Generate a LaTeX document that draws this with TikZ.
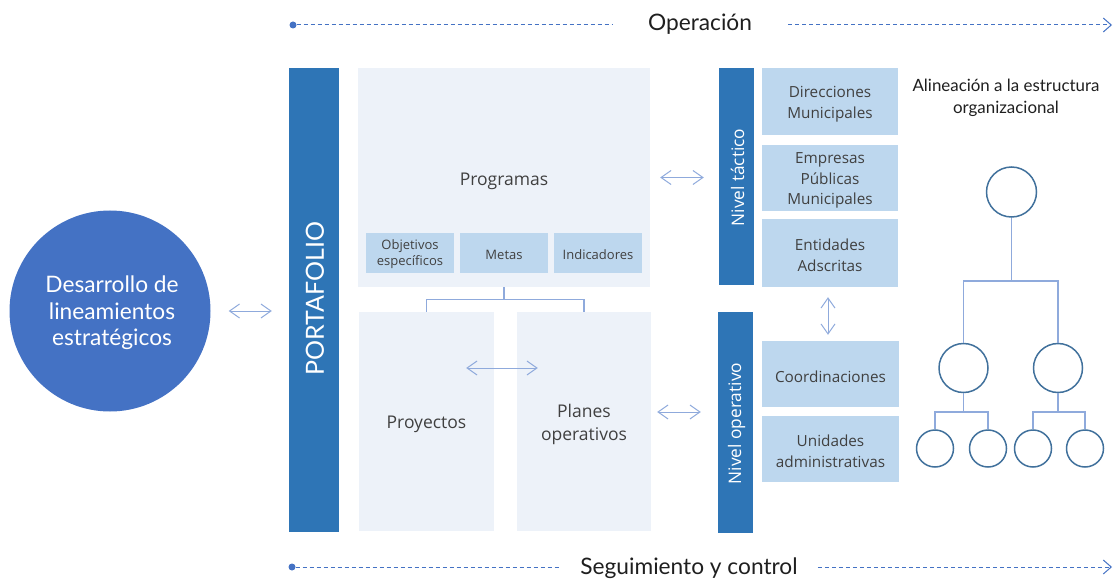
\documentclass[tikz,border=0pt]{standalone}
\usepackage{fontspec}
\setmainfont{Lato}
\newfontfamily\boxfont{Open Sans}
\usetikzlibrary{arrows.meta}
\definecolor{barblue}{HTML}{2E75B6}
\definecolor{circblue}{HTML}{4472C4}
\definecolor{lightbox}{HTML}{BDD7EE}
\definecolor{paleblue}{HTML}{EDF2F9}
\definecolor{arrblue}{HTML}{8FAADC}
\definecolor{dashblue}{HTML}{4472C4}
\definecolor{ringblue}{HTML}{41719C}
\definecolor{txtgray}{HTML}{404040}
\definecolor{darktxt}{HTML}{1F1F1F}
\tikzset{
  bigbar/.style={rectangle, fill=barblue, inner sep=0pt},
  barlabel/.style={rotate=90, text=white, inner sep=0pt},
  palebox/.style={rectangle, fill=paleblue, inner sep=0pt},
  subbox/.style={rectangle, fill=lightbox, inner sep=0pt},
  paletxt/.style={inner sep=0pt, align=center, text=txtgray, yshift=-3pt, font=\boxfont\fontsize{17.5}{23}\selectfont},
  subtxt/.style={inner sep=0pt, align=center, text=txtgray, yshift=-2.5pt, font=\boxfont\fontsize{15.3}{20.5}\selectfont},
  smalltxt/.style={inner sep=0pt, align=center, text=txtgray, yshift=-1.5pt, font=\boxfont\fontsize{13}{16}\selectfont},
  dbl/.style={draw=arrblue, line width=1pt, {Straight Barb[length=10pt,width=14pt]}-{Straight Barb[length=10pt,width=14pt]}},
  tree/.style={draw=arrblue, line width=1.2pt},
  orgc/.style={circle, draw=ringblue, line width=1.5pt, fill=white, inner sep=0pt},
  dashln/.style={draw=dashblue, line width=1pt, dash pattern=on 4pt off 3pt},
  dotnode/.style={circle, fill=dashblue, inner sep=0pt, minimum size=7pt},
  headtxt/.style={text=darktxt, inner sep=0pt}
}
\begin{document}
\begin{tikzpicture}[x=1pt,y=-1pt]
\useasboundingbox (0,0) rectangle (1116,580);

% top line
\node[dotnode] (d1) at (293,25) {};
\node[headtxt, font=\fontsize{22.7}{26}\selectfont] (op) at (700,24.5) {Operación};
\coordinate (e1) at (1112,25);
\draw[dashln] (d1) -- ([xshift=-36pt]op.west |- d1);
\draw[dashln, -{Straight Barb[length=8pt,width=14pt]}] ([xshift=36pt]op.east |- e1) -- (e1);

% bottom line
\node[dotnode] (d2) at (292,567) {};
\node[headtxt, font=\fontsize{22.7}{26}\selectfont] (seg) at (689,568) {Seguimiento y control};
\coordinate (e2) at (1112,567);
\draw[dashln] (d2) -- ([xshift=-20pt]seg.west |- d2);
\draw[dashln, -{Straight Barb[length=8pt,width=14pt]}] ([xshift=20pt]seg.east |- e2) -- (e2);

% big circle
\node[circle, fill=circblue, minimum size=201pt, inner sep=0pt] (circ) at (110,311) {};
\node[inner sep=0pt, text=white, align=center, font=\fontsize{22.7}{26.5}\selectfont] (circl) at (112,313) {Desarrollo de\\lineamientos\\estratégicos};

% portfolio bar
\node[bigbar, minimum width=50pt, minimum height=464pt] (port) at (314,300) {};
\node[barlabel, font=\fontsize{25}{28}\selectfont] (portl) at (315,299) {PORTAFOLIO};
\draw[dbl, shorten <=18pt, shorten >=17pt] (circ.east) -- (circ.east -| port.west);

% programas
\node[palebox, minimum width=292pt, minimum height=219pt] (prog) at (504,177.5) {};
\node[paletxt] (progl) at (504,178) {Programas};
\node[subbox, minimum width=88pt, minimum height=40pt] (obj) at (410,253) {};
\node[subbox, minimum width=88pt, minimum height=40pt] (met) at (504,253) {};
\node[subbox, minimum width=88pt, minimum height=40pt] (ind) at (598,253) {};
\node[smalltxt] (objl) at (obj) {Objetivos\\específicos};
\node[smalltxt] (metl) at (met) {Metas};
\node[smalltxt] (indl) at (ind) {Indicadores};

% proyectos / planes
\node[palebox, minimum width=135pt, minimum height=219pt] (proy) at (426.5,421.5) {};
\node[palebox, minimum width=134pt, minimum height=219pt] (plan) at (584,421.5) {};
\node[paletxt] (proyl) at (proy) {Proyectos};
\node[paletxt] (planl) at (plan) {Planes\\operativos};
\draw[tree] (prog.south) -- ++(0,12) -| (proy.north);
\draw[tree] (prog.south) -- ++(0,12) -| (plan.north);
\draw[dbl] ([xshift=-28pt,yshift=53.5pt]proy.east) -- ([xshift=21pt,yshift=53.5pt]plan.west);

% nivel tactico
\node[bigbar, minimum width=35pt, minimum height=217pt] (tact) at (736.5,176.5) {};
\node[barlabel, font=\boxfont\fontsize{17.3}{20}\selectfont] (tactl) at (737.5,177.5) {Nivel táctico};
\node[subbox, minimum width=136pt, minimum height=67pt] (dir) at (830,101.5) {};
\node[subbox, minimum width=136pt, minimum height=66pt] (emp) at (830,178) {};
\node[subbox, minimum width=136pt, minimum height=68pt] (ent) at (830,253) {};
\node[subtxt] (dirl) at (dir) {Direcciones\\Municipales};
\node[subtxt] (empl) at (emp) {Empresas\\Públicas\\Municipales};
\node[subtxt] (entl) at (ent) {Entidades\\Adscritas};
\draw[dbl] (prog.east) ++(10,0) -- ([xshift=-15pt]prog.east -| tact.west);

% nivel operativo
\node[bigbar, minimum width=35pt, minimum height=221pt] (oper) at (735.5,422.5) {};
\node[barlabel, font=\boxfont\fontsize{17.3}{20}\selectfont] (operl) at (736.5,423.5) {Nivel operativo};
\node[subbox, minimum width=137pt, minimum height=66pt] (coord) at (830.5,374) {};
\node[subbox, minimum width=137pt, minimum height=66pt] (unid) at (830.5,449) {};
\node[subtxt] (coordl) at (coord) {Coordinaciones};
\node[subtxt] (unidl) at (unid) {Unidades\\administrativas};
\draw[dbl] ([xshift=6pt,yshift=9.5pt]plan.east) -- ([xshift=-17pt,yshift=9.5pt]plan.east -| oper.west);
\draw[dbl] ([xshift=-2pt,yshift=-10pt]ent.south) -- ([xshift=-2.5pt,yshift=6pt]coord.north);

% org chart
\node[headtxt, align=center, font=\fontsize{16.9}{21.5}\selectfont] (alin) at (1006,98) {Alineación a la estructura\\organizacional};
\node[orgc, minimum size=50pt] (o1) at (1011.5,192) {};
\node[orgc, minimum size=49pt] (o2) at (963.5,368) {};
\node[orgc, minimum size=49pt] (o3) at (1058,368) {};
\node[orgc, minimum size=37pt] (o4) at (935,448.5) {};
\node[orgc, minimum size=37pt] (o5) at (988,448.5) {};
\node[orgc, minimum size=37pt] (o6) at (1033,448.5) {};
\node[orgc, minimum size=37pt] (o7) at (1085,448.5) {};
\draw[tree] (o1.south) -- (1011.5,281) -| (o2.north);
\draw[tree] (1011.5,281) -| (o3.north);
\draw[tree] (o2.south) -- (963.5,412) -| (o4.north);
\draw[tree] (963.5,412) -| (o5.north);
\draw[tree] (o3.south) -- (1058,412) -| (o6.north);
\draw[tree] (1058,412) -| (o7.north);
\end{tikzpicture}
\end{document}
